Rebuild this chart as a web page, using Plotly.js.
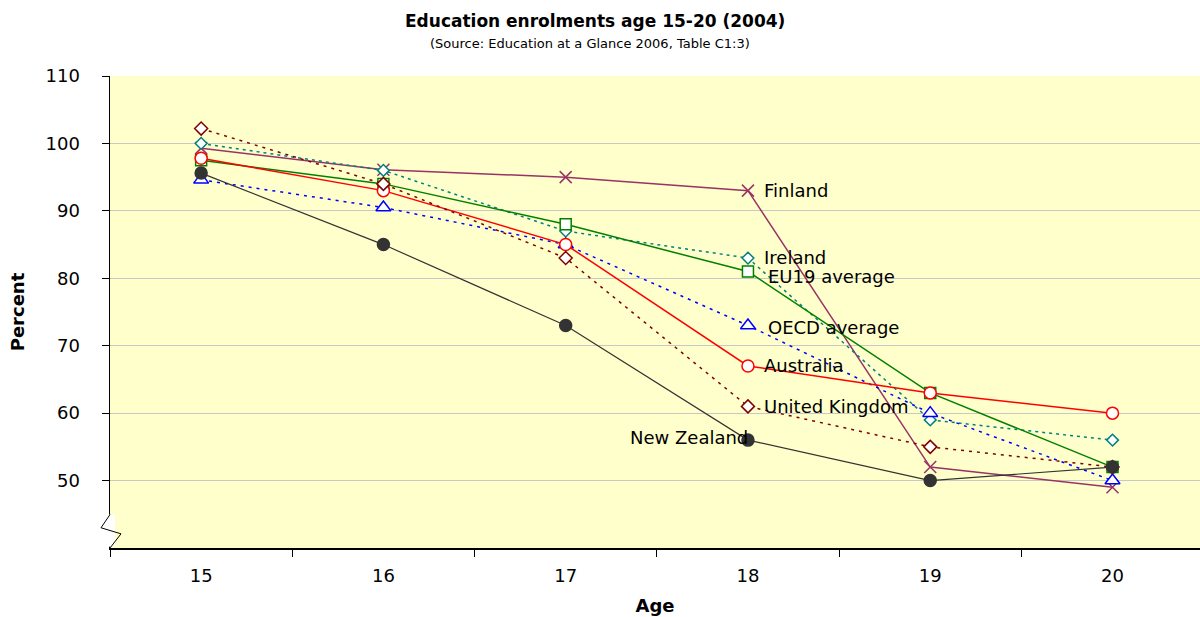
<!DOCTYPE html>
<html>
<head>
<meta charset="utf-8">
<script src="https://cdn.plot.ly/plotly-3.0.1.min.js"></script>
<style>html,body{margin:0;padding:0;background:#fff;}#chart{width:1200px;height:617px;}</style>
</head>
<body>
<div id="chart"></div>
<script>
// Data
const ages = [15, 16, 17, 18, 19, 20];
const seriesNames = ["Finland", "Ireland", "EU19 average", "OECD average", "Australia", "United Kingdom", "New Zealand"];
const finland = [99.3, 96.1, 95, 93, 52, 49];
const ireland = [100, 96, 87, 83, 59, 56];
const eu19 = [97.5, 94, 88, 81, 63, 52];
const oecd = [94.6, 90.5, 85, 73, 60, 50];
const australia = [97.8, 93, 85, 67, 63, 60];
const uk = [102.2, 94, 83, 61, 55, 52];
const newZealand = [95.6, 85, 73, 56, 50, 52];
const yTicks = [50, 60, 70, 80, 90, 100, 110];
const labelAge = 18;

const F = "DejaVu Sans, Arial, sans-serif";
const values = [finland, ireland, eu19, oecd, australia, uk, newZealand];
const styles = [
  {color: "#993366", dash: "solid", symbol: "x-thin-open", size: 12, fill: "#993366", lw: 1.5},
  {color: "#008080", dash: "3px,4px", symbol: "diamond", size: 9, fill: "#ffffff", lw: 1.5},
  {color: "#008000", dash: "solid", symbol: "square", size: 11, fill: "#ffffff", lw: 1.5},
  {color: "#0000ff", dash: "3px,5px", symbol: "triangle-up", size: 13, fill: "#ffffff", lw: 1.5},
  {color: "#ff0000", dash: "solid", symbol: "circle", size: 12, fill: "#ffffff", lw: 1.5},
  {color: "#800000", dash: "3px,5px", symbol: "diamond", size: 10, fill: "#ffffff", lw: 1.5},
  {color: "#333333", dash: "solid", symbol: "circle", size: 12, fill: "#333333", lw: 1.2}
];

const traces = seriesNames.map((name, i) => ({
  type: "scatter",
  mode: "lines+markers",
  name: name,
  x: ages,
  y: values[i],
  line: {color: styles[i].color, width: styles[i].lw, dash: styles[i].dash},
  marker: {symbol: styles[i].symbol, size: styles[i].size, color: styles[i].fill,
           line: {color: styles[i].color, width: 1.5}},
  cliponaxis: false
}));

const labelShift = [
  {xs: 14, ys: 0, anchor: "left"},
  {xs: 14, ys: 1, anchor: "left"},
  {xs: 18, ys: -5, anchor: "left"},
  {xs: 18, ys: -2, anchor: "left"},
  {xs: 14, ys: 0, anchor: "left"},
  {xs: 14, ys: 0, anchor: "left"},
  {xs: 2, ys: 3, anchor: "right"}
];
const idx18 = ages.indexOf(labelAge);
const annotations = seriesNames.map((name, i) => ({
  x: labelAge, y: values[i][idx18], xref: "x", yref: "y",
  text: name, showarrow: false, xanchor: labelShift[i].anchor, yanchor: "middle",
  xshift: labelShift[i].xs, yshift: labelShift[i].ys,
  font: {family: F, size: 18, color: "#000000"}
}));
annotations.push({
  xref: "paper", yref: "paper", x: 0.445, y: 1, yanchor: "bottom", xanchor: "center",
  yshift: 43, showarrow: false,
  text: "<b>Education enrolments age 15-20 (2004)</b>",
  font: {family: F, size: 17, color: "#000"}
});
annotations.push({
  xref: "paper", yref: "paper", x: 0.44, y: 1, yanchor: "bottom", xanchor: "center",
  yshift: 23, showarrow: false,
  text: "(Source: Education at a Glance 2006, Table C1:3)",
  font: {family: F, size: 13, color: "#000"}
});

const layout = {
  width: 1200, height: 617,
  margin: {l: 110, r: 0, t: 76, b: 69},
  paper_bgcolor: "#ffffff",
  plot_bgcolor: "#ffffcc",
  showlegend: false,
  font: {family: F, color: "#000"},
  xaxis: {
    range: [14.5, 20.48],
    tickvals: ages, ticktext: ages.map(String),
    ticks: "", showgrid: false, zeroline: false,
    showline: true, linecolor: "#000", linewidth: 1.5,
    tickfont: {family: F, size: 18, color: "#000"},
    ticklabelstandoff: 11,
    minor: {ticks: "outside", tick0: 14.5, dtick: 1, ticklen: 7, tickcolor: "#000", tickwidth: 1, showgrid: false},
    title: {text: "<b>Age</b>", font: {family: F, size: 18, color: "#000"}, standoff: 14}
  },
  yaxis: {
    range: [40, 110],
    tickvals: yTicks,
    ticks: "outside", ticklen: 7, tickcolor: "#000",
    showgrid: true, gridcolor: "#c8c8c8", gridwidth: 1.2,
    zeroline: false, showline: true, linecolor: "#000", linewidth: 1.5,
    tickfont: {family: F, size: 18, color: "#000"},
    ticklabelstandoff: 18,
    title: {text: "<b>Percent</b>", font: {family: F, size: 18, color: "#000"}, standoff: 16}
  },
  annotations: annotations,
  shapes: [
    {type: "path", xref: "paper", yref: "y", xsizemode: "pixel", xanchor: 0,
     path: "M -2,40.2 L 5,40.2 L 5,44.96 L -2,44.96 Z",
     fillcolor: "#ffffff", line: {width: 0}, layer: "above"},
    {type: "path", xref: "paper", yref: "y", xsizemode: "pixel", xanchor: 0,
     path: "M 0,44.96 L -9,43.0 L 11,42.1 L 0,40",
     line: {color: "#000", width: 1}, layer: "above"}
  ]
};

Plotly.newPlot("chart", traces, layout, {displayModeBar: false, staticPlot: true});
</script>
</body>
</html>
